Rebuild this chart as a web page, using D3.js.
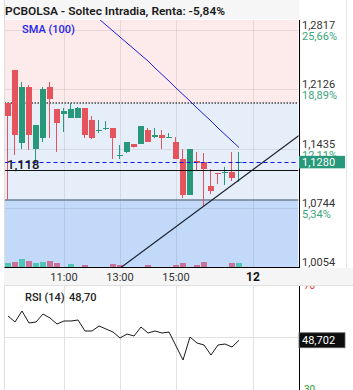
<!DOCTYPE html>
<html>
<head>
<meta charset="utf-8">
<script src="https://cdn.jsdelivr.net/npm/d3@7"></script>
<style>
  body { margin: 0; background: #fff; }
  svg { display: block; font-family: Roboto, "Noto Sans", sans-serif; }
</style>
</head>
<body>
<div id="chart-area"></div>
<script>
// 15 minute candles, index 0 = 09:00
var opens  = [1.1966, 1.2351, 1.1499, 1.2152, 1.1429, 1.1558, 1.2152, 1.1896, 1.1838, 1.1791, 1.1791, 1.1908, 1.1768, 1.1639, 1.1663, 1.1674, 1.1348,
              1.1394, 1.1488, 1.1488, 1.1651, 1.1569, 1.1593, 1.1558, 1.1511, 1.1313, 1.0893, 1.1290, 1.1278, 1.0998, 1.1150, 1.1150, 1.1161, 1.1278];
var highs  = [1.1966, 1.2351, 1.2211, 1.2176, 1.1709, 1.2152, 1.2211, 1.1896, 1.1908, 1.1966, 1.1919, 1.1908, 1.1814, 1.1768, 1.1756, 1.1674, 1.1476,
              1.1511, 1.1488, 1.1698, 1.1674, 1.1674, 1.1651, 1.1616, 1.1569, 1.1429, 1.1429, 1.1394, 1.1383, 1.1196, 1.1150, 1.1220, 1.1394, 1.1394];
var lows   = [1.0835, 1.1359, 1.1429, 1.1418, 1.1278, 1.1511, 1.1558, 1.1394, 1.1628, 1.1791, 1.1791, 1.1558, 1.1546, 1.1616, 1.1651, 1.1313, 1.1313,
              1.1383, 1.1447, 1.1488, 1.1511, 1.1558, 1.1429, 1.1558, 1.1313, 1.0858, 1.0893, 1.1185, 1.0753, 1.0905, 1.1021, 1.1010, 1.1056, 1.1045];
var closes = [1.1814, 1.1593, 1.2152, 1.1593, 1.1709, 1.2129, 1.2013, 1.1733, 1.1873, 1.1896, 1.1908, 1.1593, 1.1558, 1.1651, 1.1674, 1.1558, 1.1359,
              1.1511, 1.1453, 1.1698, 1.1511, 1.1593, 1.1558, 1.1569, 1.1313, 1.0893, 1.1429, 1.1266, 1.1196, 1.0940, 1.1138, 1.1161, 1.1091, 1.1280];
var volumes = [37, 47, 77, 60, 37, 50, 60, 37, 0, 27, 0, 20, 0, 0, 0, 27, 20,
               0, 0, 0, 17, 0, 0, 0, 17, 37, 0, 17, 47, 0, 0, 0, 37, 37];

var smaStart = 12;
var smaValues = [1.3015, 1.2945, 1.2875, 1.2805, 1.2735, 1.2665, 1.2595, 1.2525, 1.2456, 1.2374, 1.2298,
                 1.2222, 1.2141, 1.2065, 1.1989, 1.1908, 1.1832, 1.1756, 1.1674, 1.1599, 1.1523, 1.1447];

var rsiValues = [58.4, 56.0, 60.4, 55.6, 56.0, 59.2, 57.6, 55.2, 56.4, 56.4, 56.8, 52.4, 52.4, 54.4, 53.2, 52.0, 49.6,
                 51.2, 50.4, 54.0, 51.6, 52.4, 51.6, 52.0, 46.4, 40.8, 50.0, 47.6, 46.8, 42.8, 46.8, 47.2, 46.0, 48.7];

var priceTicks = [1.2817, 1.2126, 1.1435, 1.0744, 1.0054];
var priceLabels = ["1,2817", "1,2126", "1,1435", "1,0744", "1,0054"];
var pctLabels = ["25,66%", "18,89%", "12,11%", "5,34%", ""];
var timeTicks = [8, 16, 24, 35];
var timeLabels = ["11:00", "13:00", "15:00", "12"];

var lastPrice = 1.1280, lastPriceLabel = "1,1280";
var refPrice = 1.118, refLabel = "1,118";
var zoneTop = 1.1966, zoneBottom = 1.0835;
var trendLine = [[16, 1.0040], [42, 1.1612]];
var lastRsiLabel = "48,702", rsiTitle = "RSI (14)", rsiValueText = "48,70";
var title = "PCBOLSA - Soltec Intradia, Renta: -5,84%";

var W = 353, H = 390;
var plot = { left: 4.5, right: 298.5, top: 20, bottom: 267 };
var rsiBox = { top: 286, bottom: 390 };

var svg = d3.select("#chart-area").append("svg").attr("width", W).attr("height", H);

var x = d3.scaleLinear().domain([-0.5, 41.5]).range([plot.left, plot.right]);
var y = d3.scaleLinear().domain([1.0054, 1.2817]).range([267, 30]);
var yRsi = d3.scaleLinear().domain([30, 70]).range([387, 287]);
var yVol = d3.scaleLinear().domain([0, 100]).range([0, 10]);

var defs = svg.append("defs");
defs.append("clipPath").attr("id", "clip-main").append("rect")
    .attr("x", plot.left).attr("y", plot.top).attr("width", plot.right - plot.left).attr("height", plot.bottom - plot.top);
defs.append("clipPath").attr("id", "clip-rsi").append("rect")
    .attr("x", plot.left).attr("y", rsiBox.top).attr("width", W - plot.left).attr("height", rsiBox.bottom - rsiBox.top);

// title bar
svg.append("rect").attr("x", 4).attr("y", 0).attr("width", 295).attr("height", 19).attr("fill", "#f6f6f6");
svg.append("text").attr("x", 5).attr("y", 15).attr("font-size", "11.5px").attr("font-weight", 600).attr("fill", "#1a1a1a")
    .attr("textLength", 220).attr("lengthAdjust", "spacingAndGlyphs").text(title);

// main panel
var main = svg.append("g").attr("clip-path", "url(#clip-main)");

main.append("rect").attr("x", plot.left).attr("y", plot.top).attr("width", plot.right - plot.left)
    .attr("height", y(zoneTop) - plot.top).attr("fill", "#fdeaea");
main.append("rect").attr("x", plot.left).attr("y", y(zoneTop)).attr("width", plot.right - plot.left)
    .attr("height", y(zoneBottom) - y(zoneTop)).attr("fill", "#e5eef9");
main.append("rect").attr("x", plot.left).attr("y", y(zoneBottom)).attr("width", plot.right - plot.left)
    .attr("height", plot.bottom - y(zoneBottom)).attr("fill", "#c3d9f9");

main.append("g").selectAll("line").data(priceTicks).enter().append("line")
    .attr("x1", plot.left).attr("x2", plot.right)
    .attr("y1", d => Math.round(y(d)) + 0.5).attr("y2", d => Math.round(y(d)) + 0.5)
    .attr("stroke", "rgba(0,0,0,0.08)");
main.append("g").selectAll("line").data(timeTicks).enter().append("line")
    .attr("x1", d => Math.round(x(d)) + 0.5).attr("x2", d => Math.round(x(d)) + 0.5)
    .attr("y1", plot.top).attr("y2", plot.bottom)
    .attr("stroke", "rgba(0,0,0,0.08)");

main.append("line").attr("x1", plot.left).attr("x2", plot.right).attr("y1", y(zoneTop)).attr("y2", y(zoneTop))
    .attr("stroke", "#444").attr("stroke-width", 1.5).attr("stroke-dasharray", "1.5,1.5");
main.append("line").attr("x1", plot.left).attr("x2", plot.right).attr("y1", y(zoneBottom)).attr("y2", y(zoneBottom))
    .attr("stroke", "#6f7f94").attr("stroke-width", 1.5);

// volume
main.append("g").selectAll("rect").data(volumes).enter().append("rect")
    .attr("x", (d, i) => x(i) - 3).attr("width", 6)
    .attr("y", d => plot.bottom - yVol(d)).attr("height", d => yVol(d))
    .attr("fill", (d, i) => (i === 0 || closes[i] >= closes[i - 1]) ? "#52c6b4" : "#c8749a")
    .attr("shape-rendering", "crispEdges");

// candles
var candles = main.append("g").selectAll("g").data(opens).enter().append("g");
candles.append("line")
    .attr("x1", (d, i) => x(i) - 0.5).attr("x2", (d, i) => x(i) - 0.5)
    .attr("y1", (d, i) => y(highs[i])).attr("y2", (d, i) => y(lows[i]))
    .attr("stroke", (d, i) => closes[i] >= opens[i] ? "#27997a" : "#e5545c");
candles.append("rect")
    .attr("x", (d, i) => x(i) - 3).attr("width", 6)
    .attr("y", (d, i) => y(Math.max(opens[i], closes[i])))
    .attr("height", (d, i) => Math.max(1, Math.abs(y(opens[i]) - y(closes[i]))))
    .attr("fill", (d, i) => closes[i] >= opens[i] ? "#27997a" : "#e5545c")
    .attr("shape-rendering", "crispEdges");

// last price and reference lines
main.append("line").attr("x1", plot.left).attr("x2", plot.right)
    .attr("y1", Math.round(y(lastPrice)) + 0.5).attr("y2", Math.round(y(lastPrice)) + 0.5)
    .attr("stroke", "#1010f0").attr("stroke-dasharray", "4,3");
main.append("line").attr("x1", plot.left).attr("x2", plot.right)
    .attr("y1", Math.round(y(refPrice)) + 0.5).attr("y2", Math.round(y(refPrice)) + 0.5)
    .attr("stroke", "#111").attr("stroke-width", 1.2);

// SMA
var priceLine = d3.line().x(d => x(d[0])).y(d => y(d[1]));
main.append("path").datum(smaValues.map((v, k) => [smaStart + k, v]))
    .attr("d", priceLine).attr("fill", "none").attr("stroke", "#1f1fe0").attr("stroke-width", 1);

// trend line
main.append("path").datum(trendLine).attr("d", priceLine).attr("fill", "none").attr("stroke", "#1b2233").attr("stroke-width", 1.2);

main.append("text").attr("x", 22).attr("y", 33).attr("font-size", "11px").attr("font-weight", 500)
    .attr("fill", "#2424ee").text("SMA (100)");
main.append("text").attr("x", 7).attr("y", 169).attr("font-size", "13px").attr("font-weight", 500).attr("fill", "#1a1a1a").text(refLabel);

// axes lines
svg.append("line").attr("x1", 4.5).attr("x2", 4.5).attr("y1", 0).attr("y2", H).attr("stroke", "#dedede");
svg.append("line").attr("x1", 346.5).attr("x2", 346.5).attr("y1", 0).attr("y2", 268).attr("stroke", "#e4e4e4");
svg.append("line").attr("x1", 299.5).attr("x2", 299.5).attr("y1", plot.top).attr("y2", plot.bottom).attr("stroke", "#000");
svg.append("line").attr("x1", plot.left).attr("x2", 300).attr("y1", plot.bottom + 0.5).attr("y2", plot.bottom + 0.5).attr("stroke", "#000");

// right price labels
var labels = svg.append("g").attr("font-size", "11px");
labels.selectAll("text.price").data(priceTicks).enter().append("text").attr("class", "price")
    .attr("x", 302).attr("y", d => Math.round(y(d)) - 1).attr("fill", "#333").text((d, i) => priceLabels[i]);
labels.selectAll("text.pct").data(priceTicks).enter().append("text").attr("class", "pct")
    .attr("x", 302).attr("y", d => Math.round(y(d)) + 9.5).attr("fill", "#3aa57a").text((d, i) => pctLabels[i]);

svg.append("rect").attr("x", 299).attr("y", y(lastPrice) - 6).attr("width", 46).attr("height", 12.5).attr("fill", "#27997a");
svg.append("text").attr("x", 302).attr("y", y(lastPrice) + 4.5).attr("font-size", "11px").attr("fill", "#fff").text(lastPriceLabel);

// RSI panel
var rsi = svg.append("g").attr("clip-path", "url(#clip-rsi)");
rsi.append("text").attr("x", 304).attr("y", yRsi(70) + 1.5).attr("font-size", "10px").attr("fill", "#e53935").text("70");
rsi.append("text").attr("x", 304).attr("y", yRsi(30) + 6).attr("font-size", "10px").attr("fill", "#2e9d2e").text("30");
rsi.append("line").attr("x1", plot.left).attr("x2", plot.right).attr("y1", Math.round(yRsi(50)) + 0.5).attr("y2", Math.round(yRsi(50)) + 0.5)
    .attr("stroke", "#e2e2e2");
rsi.append("g").selectAll("line").data(timeTicks).enter().append("line")
    .attr("x1", d => Math.round(x(d)) + 0.5).attr("x2", d => Math.round(x(d)) + 0.5)
    .attr("y1", rsiBox.top).attr("y2", rsiBox.bottom).attr("stroke", "#e2e2e2");
rsi.append("path").datum(rsiValues)
    .attr("d", d3.line().x((d, i) => x(i)).y(d => yRsi(d)))
    .attr("fill", "none").attr("stroke", "#1a1a1a").attr("stroke-width", 1);
rsi.append("text").attr("x", 25).attr("y", 301).attr("font-size", "11px").attr("font-weight", 500).attr("fill", "#222").text(rsiTitle);
rsi.append("text").attr("x", 69).attr("y", 301).attr("font-size", "11px").attr("font-weight", 500).attr("fill", "#222").text(rsiValueText);

svg.append("line").attr("x1", 299.5).attr("x2", 299.5).attr("y1", rsiBox.top).attr("y2", H).attr("stroke", "#000");
svg.append("rect").attr("x", 299).attr("y", yRsi(48.702) - 7.5).attr("width", 46).attr("height", 15)
    .attr("fill", "#0d0d0d").attr("stroke", "#666").attr("stroke-width", 0.8);
svg.append("text").attr("x", 302).attr("y", yRsi(48.702) + 4).attr("font-size", "11px").attr("fill", "#fff").text(lastRsiLabel);

// time axis band
svg.append("rect").attr("x", 4).attr("y", 268).attr("width", W - 4).attr("height", 17).attr("fill", "#f5f5f5");
svg.append("line").attr("x1", 4).attr("x2", W).attr("y1", 285.5).attr("y2", 285.5).attr("stroke", "#e0e0e0");
svg.append("g").selectAll("text").data(timeTicks).enter().append("text")
    .attr("x", d => x(d)).attr("y", 281).attr("text-anchor", "middle")
    .attr("font-size", (d, i) => i === timeTicks.length - 1 ? "12px" : "11px")
    .attr("font-weight", (d, i) => i === timeTicks.length - 1 ? 700 : 400)
    .attr("fill", (d, i) => i === timeTicks.length - 1 ? "#111" : "#333")
    .text((d, i) => timeLabels[i]);
</script>
</body>
</html>
